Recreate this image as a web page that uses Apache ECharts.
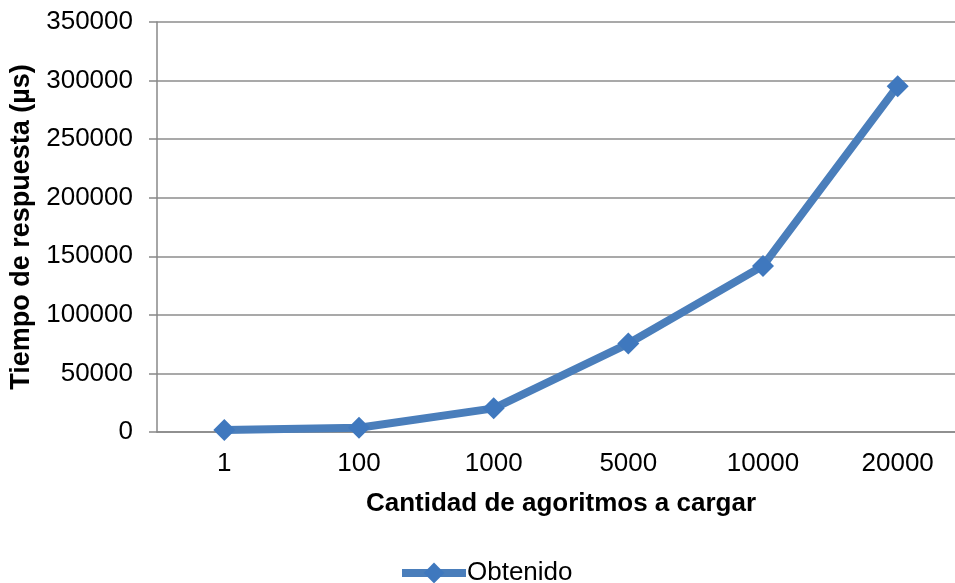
<!DOCTYPE html>
<html>
<head>
<meta charset="utf-8">
<script src="https://cdn.jsdelivr.net/npm/echarts@6/dist/echarts.min.js"></script>
<style>
html, body { margin: 0; padding: 0; background: #fff; }
#chart { width: 955px; height: 583px; }
</style>
</head>
<body>
<div id="chart"></div>
<script>
// datos del gráfico
const categorias = ['1', '100', '1000', '5000', '10000', '20000'];
const obtenido = [1700, 3700, 20200, 75500, 141800, 295200];

const chart = echarts.init(document.getElementById('chart'));

const option = {
    animation: false,
    textStyle: { fontFamily: 'Liberation Sans, Arial, sans-serif' },
    grid: {
        left: 157,
        width: 808,
        top: 22,
        bottom: 151,
        outerBoundsMode: 'none'
    },
    legend: {
        top: 560,
        left: 398,
        padding: 0,
        itemWidth: 64,
        itemHeight: 26,
        itemGap: 4,
        textStyle: { fontSize: 26, color: '#000', padding: [0, 0, 0, -4] },
        lineStyle: { width: 8 },
        data: ['Obtenido']
    },
    xAxis: {
        type: 'category',
        data: categorias,
        name: 'Cantidad de agoritmos a cargar',
        nameLocation: 'middle',
        nameGap: 59,
        nameTextStyle: { fontSize: 26, fontWeight: 'bold', color: '#000' },
        axisLine: { lineStyle: { color: '#888', width: 1.5 } },
        axisTick: { length: 9, lineStyle: { color: '#888', width: 1.5 } },
        axisLabel: { fontSize: 26, color: '#000', margin: 19 }
    },
    yAxis: {
        type: 'value',
        min: 0,
        max: 350000,
        interval: 50000,
        name: 'Tiempo de respuesta (µs)',
        nameLocation: 'middle',
        nameGap: 120,
        nameTextStyle: { fontSize: 27, fontWeight: 'bold', color: '#000' },
        axisLine: { show: true, lineStyle: { color: '#888', width: 1.5 } },
        axisTick: { show: true, length: 8, lineStyle: { color: '#888', width: 1.5 } },
        axisLabel: { fontSize: 26, color: '#000', margin: 24, formatter: v => String(v) },
        splitLine: { lineStyle: { color: '#8c8c8c', width: 1.5 } }
    },
    series: [
        {
            name: 'Obtenido',
            type: 'line',
            data: obtenido,
            symbol: 'diamond',
            symbolSize: 22,
            itemStyle: { color: '#3F78BE' },
            lineStyle: { color: '#4A7EBB', width: 8 }
        }
    ]
};

chart.setOption(option);
</script>
</body>
</html>
